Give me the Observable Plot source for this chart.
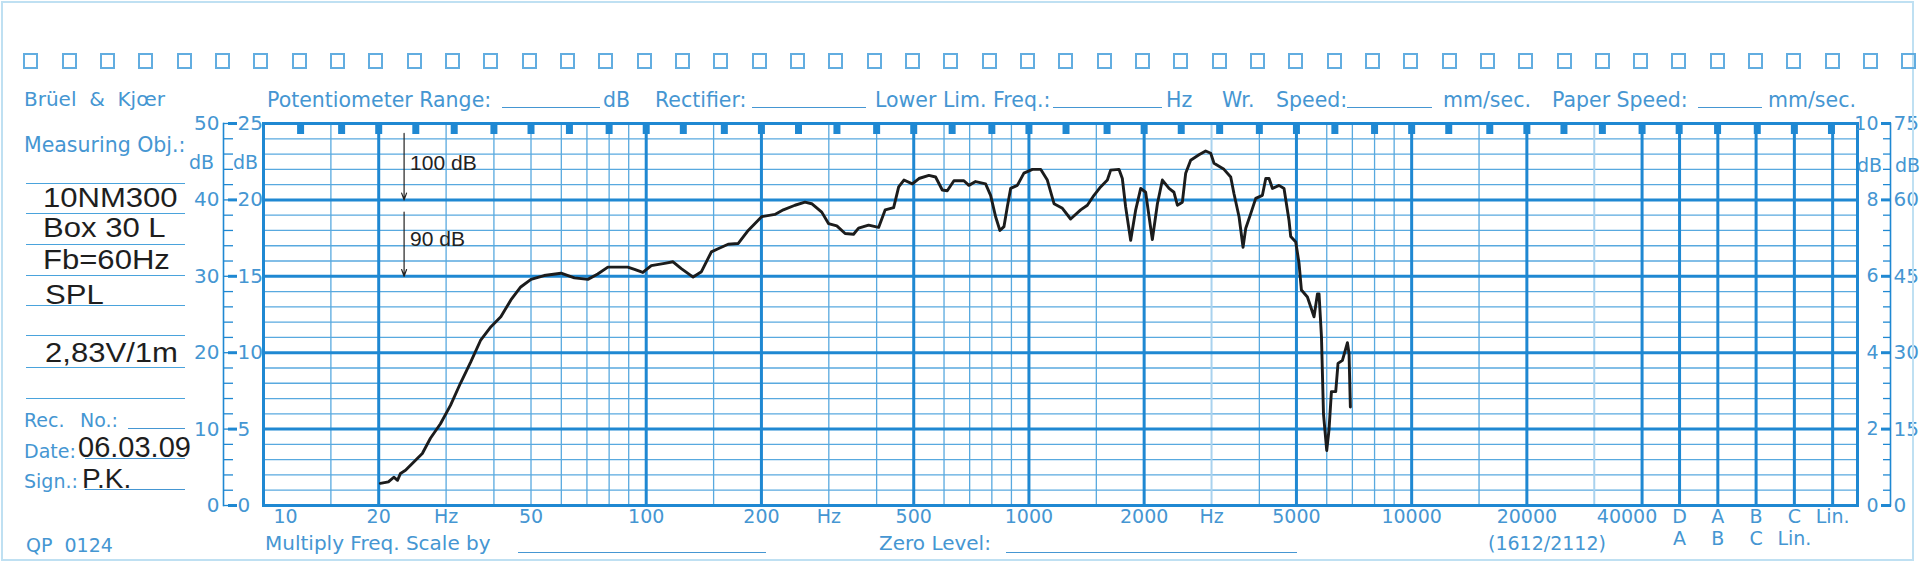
<!DOCTYPE html>
<html><head><meta charset="utf-8">
<script src="https://cdn.jsdelivr.net/npm/d3@7"></script>
<script src="https://cdn.jsdelivr.net/npm/@observablehq/plot@0.6"></script>
<style>
html,body{margin:0;padding:0;background:#fff;}
#wrap{position:relative;width:1920px;height:564px;overflow:hidden;background:#fff;}
#wrap svg{position:absolute;left:0;top:0;}
.t{position:absolute;white-space:pre;line-height:1.2;}
.blue{color:#4596d2;font-family:"DejaVu Sans",sans-serif;}
.blk{color:#1e1e1e;font-family:"Liberation Sans",Arial,sans-serif;transform-origin:0 0;}
.ul{position:absolute;height:0;border-top:1.5px solid #4596d2;}
.pl{position:absolute;height:0;border-top:1.6px solid #4aa3dc;}
.sq{position:absolute;width:11px;height:12px;border:2px solid #62ade0;}
.frameb{position:absolute;left:1px;top:1px;width:1909px;height:556px;border:2px solid #bfe0f2;}
</style></head><body><div id="wrap"></div>
<script>
// ---------- data ----------
const freqHz = [20.2, 21.2, 21.9, 22.4, 22.8, 23.5, 24.7, 26.0, 27.3, 29.0, 30.8, 32.7, 34.8, 36.9, 39.3, 41.7, 44.3, 47.0, 50.0, 54.1, 59.9, 64.9, 70.4, 74.7, 79.4, 89.5, 93.2, 98.0, 103.1, 111.7, 117.5, 123.5, 132.6, 139.4, 148.0, 154.1, 163.7, 174.0, 184.7, 200.2, 216.9, 228.2, 244.7, 259.9, 270.6, 287.5, 299.4, 314.8, 330.9, 348.1, 358.8, 381.1, 404.8, 421.2, 443.1, 456.7, 471.4, 495.8, 515.9, 547.8, 570.3, 593.8, 611.8, 636.8, 676.1, 696.8, 725.5, 770.5, 794.1, 818.4, 839.9, 860.4, 878.1, 895.8, 932.5, 970.3, 1021, 1073, 1117, 1163, 1223, 1285, 1365, 1421, 1479, 1539, 1603, 1635, 1719, 1754, 1789, 1844, 1901, 1959, 2018, 2101, 2166, 2232, 2323, 2393, 2443, 2517, 2568, 2646, 2782, 2896, 2985, 3045, 3233, 3367, 3434, 3540, 3626, 3686, 3798, 3914, 4074, 4157, 4240, 4328, 4502, 4640, 4782, 4831, 4979, 5079, 5152, 5341, 5558, 5673, 5728, 5812, 5883, 5999, 6082, 6171, 6333, 6421, 6593, 6795, 6861, 6916];
const splDb = [2.9, 3.1, 3.7, 3.3, 4.2, 4.6, 5.7, 6.8, 8.8, 10.7, 13.1, 16.0, 18.8, 21.6, 23.4, 24.7, 26.9, 28.6, 29.6, 30.1, 30.4, 29.8, 29.6, 30.3, 31.2, 31.2, 30.9, 30.5, 31.4, 31.7, 31.9, 31.0, 29.9, 30.6, 33.2, 33.6, 34.2, 34.3, 36.0, 37.8, 38.1, 38.7, 39.3, 39.7, 39.5, 38.4, 36.9, 36.6, 35.6, 35.5, 36.3, 36.7, 36.4, 38.7, 39.0, 41.7, 42.6, 42.1, 42.8, 43.2, 43.0, 41.3, 41.2, 42.5, 42.5, 41.9, 42.4, 42.1, 40.6, 37.8, 36.0, 36.5, 39.1, 41.5, 41.9, 43.5, 44.0, 44.0, 42.6, 39.5, 38.9, 37.5, 38.7, 39.3, 40.6, 41.7, 42.6, 43.9, 44.0, 42.8, 39.1, 34.7, 38.7, 41.5, 41.0, 34.8, 39.5, 42.6, 41.5, 41.0, 39.3, 39.7, 43.5, 45.2, 45.9, 46.4, 46.1, 44.8, 44.0, 43.0, 40.8, 37.8, 33.8, 36.3, 38.2, 40.2, 40.6, 42.8, 42.8, 41.5, 41.9, 41.5, 37.3, 35.2, 34.5, 31.7, 28.2, 27.3, 24.7, 27.7, 27.7, 22.1, 12.0, 7.2, 9.9, 14.9, 14.9, 18.6, 19.0, 21.3, 19.9, 12.9];

const dbGrid = [0, 2, 4, 6, 8, 10, 12, 14, 16, 18, 20, 22, 24, 26, 28, 30, 32, 34, 36, 38, 40, 42, 44, 46, 48, 50];
const dbMajor = [0, 10, 20, 30, 40, 50];
const freqMinor = [15, 30, 40, 50, 60, 70, 80, 90, 150, 300, 400, 600, 700, 800, 900, 1500, 4000, 6000, 7000, 8000, 9000, 15000];
const freqLight = [3000, 30000];
const freqMajor = [20, 100, 200, 500, 1000, 2000, 5000, 10000, 20000, 40000];
const weightCols = [50119, 63096, 79433, 100000, 125893];
const markerFreqs = [12.5, 16, 20, 25, 31.5, 40, 50, 63, 80, 100, 125, 160, 200, 250, 315, 400, 500, 630, 800, 1000, 1250, 1600, 2000, 2500, 3150, 4000, 5000, 6300, 8000, 10000, 12500, 16000, 20000, 25000, 31500, 40000, 50000, 63000, 80000, 100000, 125000];
const xMax = 146200;

const xTickFreq = [20, 30, 50, 100, 200, 300, 500, 1000, 2000, 3000, 5000, 10000, 20000, 50119, 63096, 79433, 100000, 125893];
const xTickText = ["20", "Hz", "50", "100", "200", "Hz", "500", "1000", "2000", "Hz", "5000", "10000", "20000", "D", "A", "B", "C", "Lin."];
const row2Freq = [50119, 63096, 79433, 100000];
const row2Text = ["A", "B", "C", "Lin."];

const refFreq = [23.3, 23.3];
const refFrom = [48.7, 38.4];
const refTo = [40, 30];
const refTextDb = [44.8, 34.9];
const refLabel = ["100 dB", "90 dB"];

// ---------- build ----------
const thickBlue = "#1f88d2", thinBlue = "#58a9df", lightBlue = "#a9d2ee", textBlue = "#4596d2";
const rows = freqHz.map((f, i) => ({f, db: splDb[i]}));
const refs = refLabel.map((label, i) => ({label, f: refFreq[i], from: refFrom[i], to: refTo[i], at: refTextDb[i]}));
const ticks = xTickFreq.map((f, i) => ({f, t: xTickText[i]}));
const row2 = row2Freq.map((f, i) => ({f, t: row2Text[i]}));

const chart = Plot.plot({
  width: 1920, height: 564,
  marginLeft: 263, marginRight: 63, marginTop: 123, marginBottom: 59,
  x: {type: "log", domain: [10, xMax], axis: null},
  y: {domain: [0, 50]},
  style: {fontFamily: "'DejaVu Sans', sans-serif", fontSize: "20px", background: "transparent", color: textBlue, overflow: "visible"},
  marks: [
    Plot.ruleY(dbGrid, {stroke: thinBlue, strokeWidth: 1.3}),
    Plot.ruleX(freqMinor, {stroke: thinBlue, strokeWidth: 1.3}),
    Plot.ruleX(freqLight, {stroke: lightBlue, strokeWidth: 2}),
    Plot.ruleY(dbMajor, {stroke: thickBlue, strokeWidth: 3}),
    Plot.ruleX(freqMajor, {stroke: thickBlue, strokeWidth: 3}),
    Plot.ruleX(weightCols, {stroke: thickBlue, strokeWidth: 3}),
    Plot.frame({stroke: thickBlue, strokeWidth: 3}),
    Plot.ruleX(markerFreqs, {stroke: thickBlue, strokeWidth: 7, insetBottom: 371}),
    Plot.line(rows, {x: "f", y: "db", stroke: "#1c1c1c", strokeWidth: 2.9, strokeLinejoin: "round", strokeLinecap: "round"}),
    Plot.arrow(refs, {x1: "f", x2: "f", y1: "from", y2: "to", stroke: "#222", strokeWidth: 1.2, headLength: 9, headAngle: 40}),
    Plot.text(refs, {x: "f", y: "at", text: "label", dx: 6, textAnchor: "start", fill: "#222", fontFamily: "'Liberation Sans', Arial, sans-serif", fontSize: 21}),
    // bottom frequency labels
    Plot.text(ticks, {x: "f", text: "t", frameAnchor: "bottom", dy: 17, fill: textBlue, fontSize: 19}),
    Plot.text([10], {x: d => d, text: d => String(d), frameAnchor: "bottom", dy: 17, dx: 22, fill: textBlue, fontSize: 19}),
    Plot.text([40000], {x: d => d, text: d => String(d), frameAnchor: "bottom", dy: 17, dx: -15, fill: textBlue, fontSize: 19}),
    Plot.text(row2, {x: "f", text: "t", frameAnchor: "bottom", dy: 39, fill: textBlue, fontSize: 19}),
    // left scales
    Plot.frame({anchor: "left", dx: -40, stroke: thickBlue, strokeWidth: 1.6}),
    Plot.axisY(dbGrid, {tickSize: 10, dx: -30, fill: "none", label: null, stroke: thickBlue, strokeWidth: 1.3}),
    Plot.axisY(dbMajor, {tickSize: 9, dx: -26, fill: "none", label: null, stroke: thickBlue, strokeWidth: 3}),
    Plot.axisY(dbMajor, {tickSize: 0, tickPadding: 0, dx: -44, tickFormat: d => String(d), label: null, fill: textBlue, fontSize: 20}),
    Plot.axisY(dbMajor, {tickSize: 0, tickPadding: 0, dx: -26, textAnchor: "start", tickFormat: d => String(d / 2), label: null, fill: textBlue, fontSize: 20}),
    // right scales
    Plot.frame({anchor: "right", dx: 33, stroke: thickBlue, strokeWidth: 1.6}),
    Plot.axisY(dbGrid, {anchor: "right", tickSize: 8, dx: 25, fill: "none", label: null, stroke: thickBlue, strokeWidth: 1.3}),
    Plot.axisY(dbMajor, {anchor: "right", tickSize: 10, dx: 23, fill: "none", label: null, stroke: thickBlue, strokeWidth: 3}),
    Plot.axisY(dbMajor, {anchor: "right", tickSize: 0, tickPadding: 0, dx: 21, textAnchor: "end", tickFormat: d => String(d / 5), label: null, fill: textBlue, fontSize: 19}),
    Plot.axisY(dbMajor, {anchor: "right", tickSize: 0, tickPadding: 0, dx: 36, tickFormat: d => String(d * 1.5), label: null, fill: textBlue, fontSize: 20})
  ]
});
const wrap = document.getElementById("wrap");
wrap.appendChild(chart);

// ---------- paper decorations (HTML) ----------
function put(txt, x, base, size, cls, extra) {
  const d = document.createElement("div");
  d.className = "t " + cls;
  d.textContent = txt;
  d.style.left = x + "px";
  d.style.top = (base - 0.946 * size) + "px";
  d.style.fontSize = size + "px";
  if (extra) Object.assign(d.style, extra);
  wrap.appendChild(d);
}
function line(cls, x1, x2, y) {
  const d = document.createElement("div");
  d.className = cls;
  d.style.left = x1 + "px"; d.style.width = (x2 - x1) + "px"; d.style.top = y + "px";
  wrap.appendChild(d);
}
const fb = document.createElement("div"); fb.className = "frameb"; wrap.appendChild(fb);
for (let i = 0; i < 50; i++) {
  const s = document.createElement("div"); s.className = "sq";
  s.style.left = (23.3 + i * 38.33) + "px"; s.style.top = "53px";
  wrap.appendChild(s);
}
// header
put("Brüel  &  Kjœr", 24, 106, 20, "blue");
put("Measuring Obj.:", 24, 152, 20.5, "blue");
const header = [["Potentiometer Range:", 267], ["dB", 603], ["Rectifier:", 655], ["Lower Lim. Freq.:", 875], ["Hz", 1166], ["Wr.", 1222], ["Speed:", 1276], ["mm/sec.", 1443], ["Paper Speed:", 1552], ["mm/sec.", 1768]];
header.forEach(([t, x]) => put(t, x, 107, 20.5, "blue"));
[[502, 600], [752, 866], [1053, 1162], [1347, 1432], [1698, 1762]].forEach(([a, b]) => line("ul", a, b, 107));
// unit labels on side scales
put("dB", 189, 169, 19, "blue"); put("dB", 233, 169, 19, "blue");
put("dB", 1857, 172, 19, "blue"); put("dB", 1895, 172, 19, "blue");
// left panel
[183, 213, 244, 275, 305, 335, 367, 398].forEach(y => line("pl", 26, 185, y));
const sx = {transform: "scaleX(1.15)"};
put("10NM300", 43, 208, 27, "blk", sx);
put("Box 30 L", 43, 238, 27, "blk", sx);
put("Fb=60Hz", 43, 270, 27, "blk", sx);
put("SPL", 45, 305, 27, "blk", sx);
put("2,83V/1m", 45, 363, 27, "blk", sx);
put("Rec.", 24, 427, 19, "blue"); put("No.:", 80, 427, 19, "blue");
line("ul", 128, 185, 428);
put("Date:", 24, 458, 19, "blue"); line("ul", 85, 185, 458);
put("06.03.09", 78, 457, 29, "blk");
put("Sign.:", 24, 488, 19, "blue"); line("ul", 85, 185, 489);
put("P.K.", 82, 488, 28, "blk");
put("QP  0124", 26, 552, 19, "blue");
// bottom
put("Multiply Freq. Scale by", 265, 550, 20, "blue"); line("ul", 518, 766, 552);
put("Zero Level:", 879, 550, 20, "blue"); line("ul", 1006, 1297, 552);
put("(1612/2112)", 1488, 550, 19, "blue");
</script></body></html>
